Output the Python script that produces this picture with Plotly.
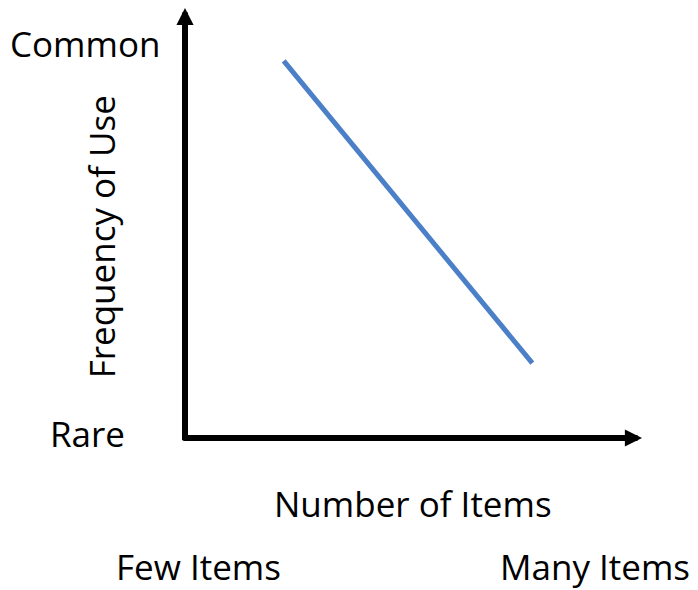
import plotly.graph_objects as go

# Conceptual data (0..10 scales on both axes)
items = [2.16, 7.6]          # Number of Items
frequency = [8.77, 1.74]     # Frequency of Use

OFF = 8                       # page body margin in the browser
W, H = 698 - OFF, 590 - OFF
X0, X1 = 184.5, 642           # screen px of axis origin / x-arrow tip
Y0, Y1 = 438.5, 8             # screen px of axis origin / y-arrow tip
L = X0 - OFF
R = W - (X1 - OFF)
T = Y1 - OFF
B = H - (Y0 - OFF)
PW, PH = W - L - R, H - T - B

def px(X):
    return (X - X0) / PW

def py(Y):
    return (Y0 - Y) / PH

fig = go.Figure()
fig.add_trace(go.Scatter(x=items, y=frequency, mode="lines",
                         line=dict(color="#4b80c8", width=5), hoverinfo="skip"))

font = dict(family="Open Sans", size=35, color="#000000")
anns = []
anns.append(dict(x=0, y=10, ax=0, ay=-0.09, xref="x", yref="y", axref="x", ayref="y",
                 text="", showarrow=True, arrowhead=2, arrowsize=0.57, arrowwidth=6,
                 arrowcolor="#000000", standoff=0))
anns.append(dict(x=10, y=0, ax=-0.07, ay=0, xref="x", yref="y", axref="x", ayref="y",
                 text="", showarrow=True, arrowhead=2, arrowsize=0.57, arrowwidth=6,
                 arrowcolor="#000000", standoff=0))

def label(text, X, Y, angle=0):
    anns.append(dict(text=text, x=px(X), y=py(Y), xref="paper", yref="paper",
                     xanchor="center", yanchor="middle", showarrow=False,
                     font=font, textangle=angle, borderpad=0))

label("Common", 84.5, 44)
label("Rare", 87, 434)
label("Frequency of Use", 101, 237, -90)
label("Number of Items", 413, 504)
label("Few Items", 198.5, 567)
label("Many Items", 595, 567)

fig.update_layout(
    width=W, height=H,
    margin=dict(l=L, r=R, t=T, b=B, pad=0),
    paper_bgcolor="white", plot_bgcolor="white",
    showlegend=False,
    xaxis=dict(range=[0, 10], visible=False, fixedrange=True),
    yaxis=dict(range=[0, 10], visible=False, fixedrange=True),
    annotations=anns,
)
fig.write_html("out.html", config={"displayModeBar": False})
